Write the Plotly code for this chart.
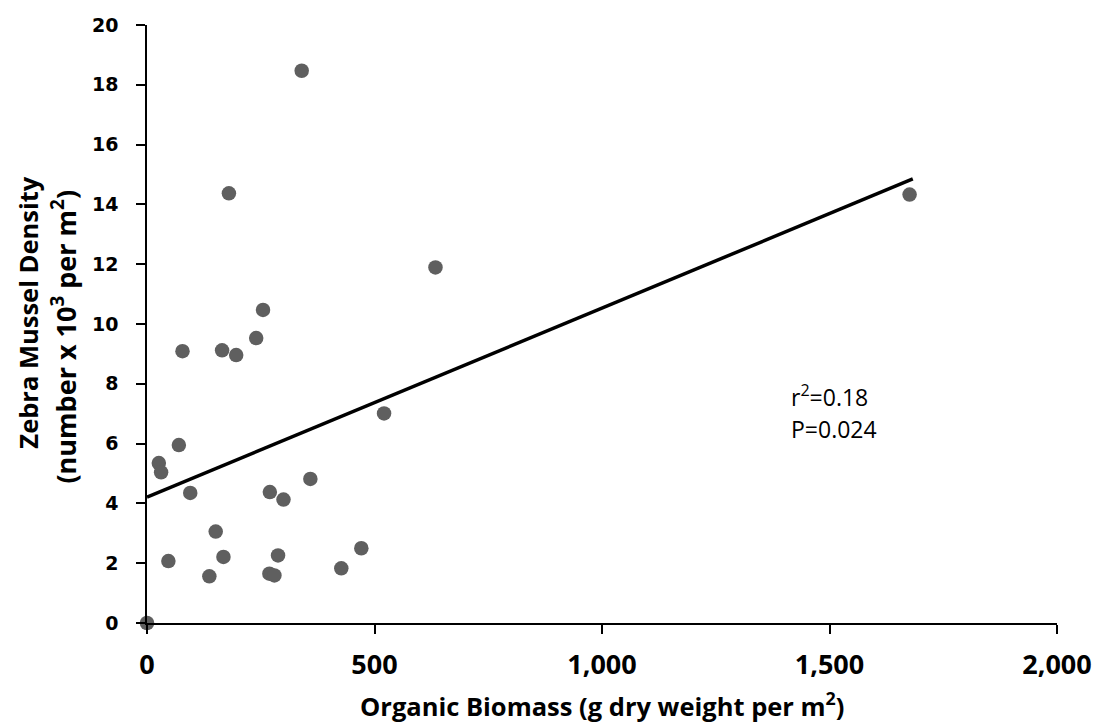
import plotly.graph_objects as go

# Organic biomass (g dry weight per m^2)
biomass = [78, 165, 196, 240, 255, 70, 26, 31, 95, 270, 300, 359, 151, 47,
           168, 288, 137, 269, 280, 0, 521, 471, 427, 340, 180, 634, 1676]
# Zebra mussel density (number x 10^3 per m^2)
density = [9.09, 9.12, 8.96, 9.53, 10.47, 5.95, 5.35, 5.04, 4.35, 4.38, 4.13,
           4.82, 3.06, 2.07, 2.21, 2.26, 1.56, 1.65, 1.59, 0.0, 7.01, 2.50,
           1.83, 18.47, 14.37, 11.89, 14.33]

# Linear trend line end points
trend_x = [0, 1683]
trend_y = [4.21, 14.85]

x_ticks = [0, 500, 1000, 1500, 2000]
x_tick_labels = ["0", "500", "1,000", "1,500", "2,000"]
y_ticks = [0, 2, 4, 6, 8, 10, 12, 14, 16, 18, 20]

fig = go.Figure()
fig.add_trace(go.Scatter(
    x=biomass, y=density, mode="markers",
    marker=dict(size=14.5, color="#5f5f5f", line=dict(width=0)),
    cliponaxis=False, showlegend=False,
))
fig.add_trace(go.Scatter(
    x=trend_x, y=trend_y, mode="lines",
    line=dict(color="black", width=3.5),
    showlegend=False,
))

axis_common = dict(
    showgrid=False, zeroline=False, showline=True, linecolor="black",
    linewidth=1.5, ticks="outside", ticklen=9, tickwidth=1.5,
    tickcolor="black", automargin=False,
)
fig.update_xaxes(
    range=[0, 2000], tickvals=x_ticks, ticktext=x_tick_labels,
    tickfont=dict(family="Open Sans", size=27, color="black", weight="bold"),
    ticklabelstandoff=8, **axis_common,
)
fig.update_yaxes(
    range=[0, 20], tickvals=y_ticks,
    tickfont=dict(family="DejaVu Sans", size=19, color="black", weight="bold"),
    ticklabelstandoff=14, **axis_common,
)

title_font = dict(family="Open Sans", size=25.5, color="black", weight="bold")
title_font2 = dict(family="Open Sans", size=27, color="black", weight="bold")
note_font = dict(family="Open Sans", size=23, color="black")
annotations = [
    dict(text="Organic Biomass (g dry weight per m<sup>2</sup>)",
         xref="paper", yref="paper", x=0.5, y=0, xanchor="center",
         yanchor="middle", yshift=-81, showarrow=False, font=title_font),
    dict(text="Zebra Mussel Density",
         xref="paper", yref="paper", x=0, y=0.519, xanchor="center",
         yanchor="middle", xshift=-119, textangle=-90, showarrow=False,
         font=title_font),
    dict(text="(number x 10<sup>3</sup> per m<sup>2</sup>)",
         xref="paper", yref="paper", x=0, y=0.479, xanchor="center",
         yanchor="middle", xshift=-83, textangle=-90, showarrow=False,
         font=title_font2),
    dict(text="r<sup>2</sup>=0.18",
         xref="paper", yref="paper", x=0.706, y=(622.7 - 396) / 597.7,
         xanchor="left", yanchor="middle", showarrow=False, font=note_font),
    dict(text="P=0.024",
         xref="paper", yref="paper", x=0.706, y=(622.7 - 429) / 597.7,
         xanchor="left", yanchor="middle", showarrow=False, font=note_font),
]

fig.update_layout(
    width=1099, height=728,
    margin=dict(l=146.7, r=41.7, t=25, b=105.3),
    paper_bgcolor="white", plot_bgcolor="white",
    annotations=annotations,
)

fig.write_html(
    "out.html",
    config={"displayModeBar": False},
    post_script="document.body.style.margin='0';document.body.style.overflow='hidden';",
)
